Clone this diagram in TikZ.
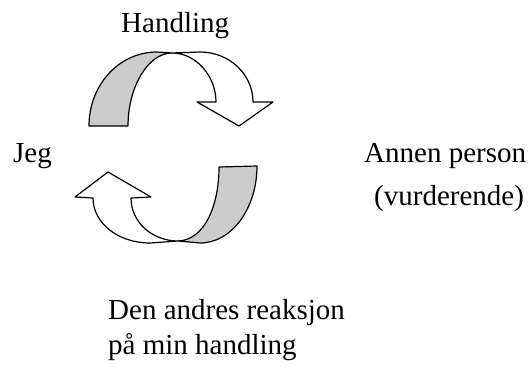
\documentclass[tikz,border=0pt]{standalone}
\usepackage{fontspec}
\setmainfont{Liberation Serif}
\definecolor{bandgray}{RGB}{204,204,204}

\begin{document}
\begin{tikzpicture}[line cap=round,line join=round,x=1pt,y=-1pt,
  lbl/.style={anchor=base west,inner sep=0pt,font=\fontsize{29}{35}\selectfont},
  band/.style={draw=black,line width=1.2pt,fill=bandgray},
  face/.style={draw=black,line width=1.2pt,fill=white}]
\useasboundingbox (0,0) rectangle (529,369);

% upper arrow: back side of the band, then the front with its head
\draw[band] (89,126) .. controls (89,85) and (119,52) .. (157,52) -- (172,53)
  .. controls (148,53) and (128,87) .. (128,126) -- cycle;
\draw[face] (172,53) -- (200,52) .. controls (229,52) and (253,74) .. (253,102)
  -- (273,102) -- (239,126) -- (197,102) -- (216,102)
  .. controls (216,76) and (196,53) .. (172,53) -- cycle;

% lower arrow
\draw[band] (219,167) -- (257,166) .. controls (257,208) and (232,243) .. (200,243)
  -- (178,241) .. controls (205,240) and (219,205) .. (219,167) -- cycle;
\draw[face] (178,241) -- (150,243) .. controls (118,243) and (93,223) .. (93,198)
  -- (75,197) -- (108,172) -- (151,197) -- (131,198)
  .. controls (131,222) and (152,241) .. (178,241) -- cycle;

\node[lbl] (handling) at (121,33) {Handling};
\node[lbl] (jeg) at (13,162) {Jeg};
\node[lbl] (annen) at (364,162) {Annen person};
\node[lbl] (vurd) at (374,205) {(vurderende)};
\node[lbl] (reaksjon) at (108,319) {Den andres reaksjon};
\node[lbl] (paamin) at (108,354) {på min handling};
\end{tikzpicture}
\end{document}
